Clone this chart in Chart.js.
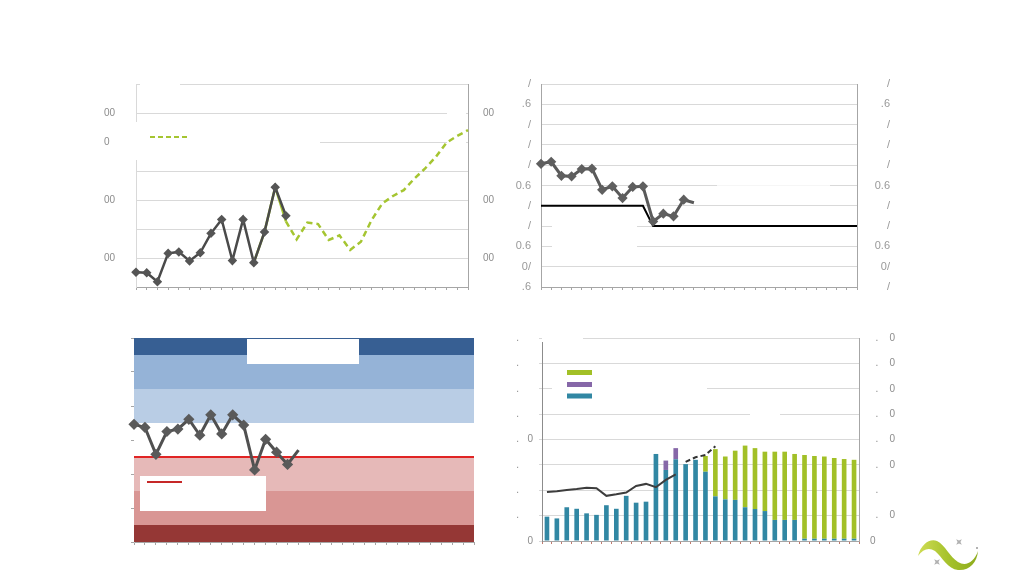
<!DOCTYPE html>
<html>
<head>
<meta charset="utf-8">
<script src="https://cdn.jsdelivr.net/npm/chart.js@4.4.1/dist/chart.umd.min.js"></script>
<style>
  html, body { margin: 0; padding: 0; background: #fff; }
  #page { position: relative; width: 1024px; height: 577px; overflow: hidden; background: #fff; }
  .panel { position: absolute; }
  #logo { position: absolute; left: 905px; top: 525px; }
</style>
</head>
<body>
<div id="page">
  <div class="panel" style="left:100px;top:74px;width:410px;height:225px"><canvas id="c1"></canvas></div>
  <div class="panel" style="left:500px;top:74px;width:410px;height:225px"><canvas id="c2"></canvas></div>
  <div class="panel" style="left:100px;top:328px;width:400px;height:230px"><canvas id="c3"></canvas></div>
  <div class="panel" style="left:500px;top:328px;width:410px;height:230px"><canvas id="c4"></canvas></div>
  <svg id="logo" width="80" height="50" viewBox="905 525 80 50">
    <defs>
      <linearGradient id="swoosh" x1="0" y1="0" x2="1" y2="0">
        <stop offset="0" stop-color="#cfdc55"/>
        <stop offset="0.5" stop-color="#a6c22c"/>
        <stop offset="1" stop-color="#8dab1c"/>
      </linearGradient>
    </defs>
    <path d="M918 556 C921 544,930 538,937 541 C945 545,950 557,958 562 C966 567,974 562,978 551 C977 563,969 571,958 570 C948 569,942 557,935 551 C929 547,923 549,918 556 Z" fill="url(#swoosh)"/>
    <path d="M959 538 L960 541 L963 542 L960 543 L959 546 L958 543 L955 542 L958 541 Z" fill="#b0b0b0" transform="rotate(45 959 542)"/>
    <path d="M937 558 L938 561 L941 562 L938 563 L937 566 L936 563 L933 562 L936 561 Z" fill="#b0b0b0" transform="rotate(45 937 562)"/>
    <circle cx="977" cy="548" r="1" fill="#999"/>
  </svg>
</div>
<script>
// categories (x labels are blank in the picture)
const categories = ['1','2','3','4','5','6','7','8','9','10','11','12','13','14','15','16',
  '17','18','19','20','21','22','23','24','25','26','27','28','29','30','31','32'];

// top left
const p1Actual = [0.51, 0.49, 0.18, 1.16, 1.21, 0.90, 1.18, 1.85, 2.33, 0.91, 2.33, 0.84, 1.90, 3.44, 2.46];
const p1Forecast = [null, null, null, null, null, null, null, null, null, null, null,
  0.84, 1.90, 3.44, 2.26, 1.64, 2.22, 2.17, 1.62, 1.78, 1.28, 1.56, 2.31, 2.88, 3.14, 3.34,
  3.74, 4.09, 4.49, 4.98, 5.21, 5.41];
const p1LeftTicks = ['', '00', '', '00', '', '0', '00', ''];
const p1RightTicks = ['', '00', '', '00', '', '', '00', ''];

// top right
const p2Actual = [6.07, 6.17, 5.48, 5.45, 5.81, 5.83, 4.79, 4.96, 4.38, 4.93, 4.96, 3.23, 3.61, 3.48, 4.30, 4.15];
const p2Target = [4, 4, 4, 4, 4, 4, 4, 4, 4, 4, 4, 3, 3, 3, 3, 3, 3, 3, 3, 3, 3, 3, 3, 3, 3, 3, 3, 3, 3, 3, 3, 3];
const p2LeftTicks = ['.6', '0/', '0.6', '/', '/', '0.6', '/', '/', '/', '.6', '/'];
const p2RightTicks = ['/', '0/', '0.6', '/', '/', '0.6', '/', '/', '/', '.6', '/'];

// bottom left
const p3Actual = [3.46, 3.37, 2.58, 3.25, 3.32, 3.61, 3.14, 3.74, 3.18, 3.74, 3.44, 2.12, 3.02, 2.64, 2.28, 2.70];
const p3Threshold = [2.5, 2.5, 2.5, 2.5, 2.5, 2.5, 2.5, 2.5, 2.5, 2.5, 2.5, 2.5, 2.5, 2.5, 2.5, 2.5,
  2.5, 2.5, 2.5, 2.5, 2.5, 2.5, 2.5, 2.5, 2.5, 2.5, 2.5, 2.5, 2.5, 2.5, 2.5, 2.5];
const p3BandEdges = [0, 0.5, 1.5, 2.5, 3.5, 4.5, 5.5, 6];
const p3BandColors = ['#953735', '#d99694', '#e6b9b8', '#ffffff', '#b9cde5', '#95b3d7', '#375f93'];

// bottom right
const p4Teal = [0.96, 0.89, 1.33, 1.27, 1.09, 1.03, 1.41, 1.27, 1.78, 1.51, 1.55, 3.43, 2.80, 3.22, 3.03, 3.20,
  2.73, 1.76, 1.64, 1.62, 1.33, 1.26, 1.18, 0.83, 0.83, 0.83, 0.09, 0.09, 0.09, 0.09, 0.09, 0.09];
const p4Purple = [0, 0, 0, 0, 0, 0, 0, 0, 0, 0, 0, 0, 0.37, 0.44, 0, 0,
  0, 0, 0, 0, 0, 0, 0, 0, 0, 0, 0, 0, 0, 0, 0, 0];
const p4Green = [0, 0, 0, 0, 0, 0, 0, 0, 0, 0, 0, 0, 0, 0, 0, 0,
  0.62, 1.86, 1.69, 1.94, 2.43, 2.40, 2.34, 2.69, 2.69, 2.60, 3.30, 3.26, 3.24, 3.18, 3.14, 3.11];
const p4Line = [1.93, 1.96, 2.01, 2.05, 2.10, 2.08, 1.78, 1.84, 1.91, 2.17, 2.25, 2.12, 2.41, 2.63];
const p4LineDashed = [null, null, null, null, null, null, null, null, null, null, null, null, null, null, 3.12, 3.30, 3.39, 3.73];
const p4LeftTicks = ['0', '.     ', '.     ', '.     ', '.   0', '.     ', '.     ', '.     ', '.     '];
const p4RightTicks = ['0', '  .    0', '  .', '  .    0', '  .    0', '  .    0', '  .    0', '  .    0', '  .    0'];

Chart.defaults.font.family = '"Liberation Sans", Arial, sans-serif';
Chart.defaults.animation = false;

const gridGray = '#d9d9d9';
const axisGray = '#a6a6a6';

// fixed axis sizes; label padding must not push the plot area
function width(w) { return s => { s.width = w; s.paddingTop = 0; s.paddingBottom = 0; }; }
function height(h) { return s => { s.height = h; s.paddingLeft = 0; s.paddingRight = 0; }; }

// white boxes where text used to be, drawn over the grid but under the data
function whiteBoxes(id, boxes, extra) {
  return {
    id: id,
    beforeDatasetsDraw(chart) {
      const ctx = chart.ctx;
      ctx.save();
      boxes.forEach(b => {
        ctx.fillStyle = b[4] || '#ffffff';
        ctx.fillRect(b[0], b[1], b[2], b[3]);
      });
      if (extra) extra(ctx, chart);
      ctx.restore();
    }
  };
}

const baseOpts = {
  responsive: true,
  maintainAspectRatio: false,
  plugins: { legend: { display: false }, tooltip: { enabled: false } },
};

function catAxis(h, offset) {
  return {
    type: 'category',
    offset: offset,
    grid: { drawOnChartArea: false, drawTicks: true, tickLength: 3, color: axisGray, offset: offset },
    border: { display: true, color: axisGray },
    ticks: { callback: () => '', autoSkip: false, maxRotation: 0, padding: 0 },
    afterFit: height(h)
  };
}

// ---------- top left ----------
new Chart(document.getElementById('c1'), {
  type: 'line',
  data: {
    labels: categories,
    datasets: [
      {
        data: p1Actual,
        borderColor: '#4a4a4a',
        borderWidth: 2.5,
        pointStyle: 'rectRot',
        pointRadius: 3,
        pointBackgroundColor: '#555',
        pointBorderColor: '#555',
        tension: 0
      },
      {
        data: p1Forecast,
        borderColor: '#a5c531',
        borderWidth: 2.5,
        pointRadius: 0,
        tension: 0,
        segment: { borderDash: ctx => ctx.p0DataIndex >= 14 ? [6, 4] : undefined }
      }
    ]
  },
  options: Object.assign({}, baseOpts, {
    layout: { padding: { left: 4, top: 10, right: 0, bottom: 0 }, autoPadding: false },
    scales: {
      x: catAxis(12, false),
      y: {
        position: 'left', min: 0, max: 7,
        ticks: { stepSize: 1, crossAlign: 'far', color: '#8c8c8c', font: { size: 10 }, callback: (v, i) => p1LeftTicks[i] },
        grid: { color: gridGray, drawTicks: false },
        border: { display: true, color: gridGray },
        afterFit: width(32)
      },
      y2: {
        position: 'right', min: 0, max: 7,
        ticks: { stepSize: 1, padding: 15, color: '#8c8c8c', font: { size: 10 }, callback: (v, i) => p1RightTicks[i] },
        grid: { drawOnChartArea: false, drawTicks: false },
        border: { display: true, color: axisGray },
        afterFit: width(42)
      }
    }
  }),
  plugins: [whiteBoxes('p1boxes', [[36, 48, 184, 38], [347, 31, 19, 45], [40, 6, 40, 8]], ctx => {
    ctx.strokeStyle = '#a5c531';
    ctx.lineWidth = 2;
    ctx.setLineDash([5, 3]);
    ctx.beginPath();
    ctx.moveTo(50, 63);
    ctx.lineTo(87, 63);
    ctx.stroke();
  })]
});

// ---------- top right ----------
new Chart(document.getElementById('c2'), {
  type: 'line',
  data: {
    labels: categories,
    datasets: [
      {
        data: p2Actual,
        borderColor: '#5a5a5a',
        borderWidth: 3,
        pointStyle: 'rectRot',
        pointRadius: ctx => ctx.dataIndex === p2Actual.length - 1 ? 0 : 3,
        pointBackgroundColor: '#5f5f5f',
        pointBorderColor: '#5f5f5f',
        tension: 0
      },
      {
        data: p2Target,
        borderColor: '#000000',
        borderWidth: 2,
        pointRadius: 0,
        tension: 0
      }
    ]
  },
  options: Object.assign({}, baseOpts, {
    layout: { padding: { left: 0, top: 10, right: 20, bottom: 0 }, autoPadding: false },
    scales: {
      x: catAxis(12, false),
      y: {
        position: 'left', min: 0, max: 10,
        ticks: { stepSize: 1, padding: 10, color: '#999', font: { size: 11 }, callback: (v, i) => p2LeftTicks[i] },
        grid: { color: gridGray, drawTicks: false },
        border: { display: true, color: axisGray },
        afterFit: width(41)
      },
      y2: {
        position: 'right', min: 0, max: 10,
        ticks: { stepSize: 1, crossAlign: 'far', color: '#999', font: { size: 11 }, callback: (v, i) => p2RightTicks[i] },
        grid: { drawOnChartArea: false, drawTicks: false },
        border: { display: true, color: axisGray },
        afterFit: width(33)
      }
    }
  }),
  plugins: [whiteBoxes('p2boxes', [[52, 146, 85, 32], [217, 109, 113, 6, 'rgba(255,255,255,0.75)']])]
});

// ---------- bottom left ----------
const bandsPlugin = {
  id: 'bands',
  beforeDatasetsDraw(chart) {
    const ctx = chart.ctx;
    const area = chart.chartArea;
    const y = chart.scales.y;
    ctx.save();
    for (let i = 0; i < p3BandColors.length; i++) {
      const top = y.getPixelForValue(p3BandEdges[i + 1]);
      const bottom = y.getPixelForValue(p3BandEdges[i]);
      ctx.fillStyle = p3BandColors[i];
      ctx.fillRect(area.left, top, area.right - area.left, bottom - top);
    }
    ctx.restore();
  }
};

new Chart(document.getElementById('c3'), {
  type: 'line',
  data: {
    labels: categories,
    datasets: [
      {
        data: p3Actual,
        borderColor: '#505050',
        borderWidth: 3,
        pointStyle: 'rectRot',
        pointRadius: ctx => ctx.dataIndex === p3Actual.length - 1 ? 0 : 3.5,
        pointBackgroundColor: '#5a5a5a',
        pointBorderColor: '#5a5a5a',
        tension: 0
      },
      {
        data: p3Threshold,
        borderColor: '#e02424',
        borderWidth: 2,
        pointRadius: 0,
        tension: 0
      }
    ]
  },
  options: Object.assign({}, baseOpts, {
    layout: { padding: { left: 0, top: 10, right: 26, bottom: 6 }, autoPadding: false },
    scales: {
      x: catAxis(10, false),
      y: {
        position: 'left', min: 0, max: 6,
        ticks: { stepSize: 1, callback: () => '' },
        grid: { drawOnChartArea: false, drawTicks: true, tickLength: 3, color: axisGray },
        border: { display: true, color: '#c8c8c8' },
        afterFit: width(34)
      }
    }
  }),
  plugins: [bandsPlugin, whiteBoxes('p3boxes', [[147, 11, 112, 25], [40, 148, 126, 35]], ctx => {
    ctx.strokeStyle = '#c62828';
    ctx.lineWidth = 2;
    ctx.beginPath();
    ctx.moveTo(47, 154);
    ctx.lineTo(82, 154);
    ctx.stroke();
  })]
});

// ---------- bottom right ----------
new Chart(document.getElementById('c4'), {
  type: 'bar',
  data: {
    labels: categories,
    datasets: [
      {
        type: 'line', data: p4Line, stack: 'l1',
        borderColor: '#3d3d3d', borderWidth: 2, pointRadius: 0, tension: 0
      },
      {
        type: 'line', data: p4LineDashed, stack: 'l2',
        borderColor: '#333333', borderWidth: 2, borderDash: [5, 3], pointRadius: 0, tension: 0
      },
      { data: p4Teal, stack: 'bars', backgroundColor: '#3187a3', barPercentage: 0.47, categoryPercentage: 1 },
      { data: p4Purple, stack: 'bars', backgroundColor: '#8667a8', barPercentage: 0.47, categoryPercentage: 1 },
      { data: p4Green, stack: 'bars', backgroundColor: '#a2c027', barPercentage: 0.47, categoryPercentage: 1 }
    ]
  },
  options: Object.assign({}, baseOpts, {
    layout: { padding: { left: 0, top: 10, right: 0, bottom: 0 }, autoPadding: false },
    scales: {
      x: Object.assign(catAxis(17, true), { stacked: true,
        grid: { drawOnChartArea: false, drawTicks: true, tickLength: 3, color: '#c07a6e', offset: true } }),
      y: {
        position: 'left', min: 0, max: 8, stacked: true,
        ticks: { stepSize: 1, padding: 6, color: '#8c8c8c', font: { size: 10 }, callback: (v, i) => p4LeftTicks[i] },
        grid: { color: gridGray, drawTicks: true, tickLength: 3 },
        border: { display: true, color: '#8c8c8c' },
        afterFit: width(42)
      },
      y2: {
        position: 'right', min: 0, max: 8,
        ticks: { stepSize: 1, padding: 11, color: '#8c8c8c', font: { size: 10 }, callback: (v, i) => p4RightTicks[i] },
        grid: { drawOnChartArea: false, drawTicks: false },
        border: { display: true, color: axisGray },
        afterFit: width(51)
      }
    }
  }),
  plugins: [whiteBoxes('p4boxes', [[42, 6, 41, 8], [52, 52, 155, 18], [250, 82, 30, 8]], ctx => {
    ctx.fillStyle = '#a2c027';
    ctx.fillRect(67, 42, 25, 5);
    ctx.fillStyle = '#8667a8';
    ctx.fillRect(67, 54, 25, 5);
    ctx.fillStyle = '#3187a3';
    ctx.fillRect(67, 65.5, 25, 5);
  })]
});
</script>
</body>
</html>
